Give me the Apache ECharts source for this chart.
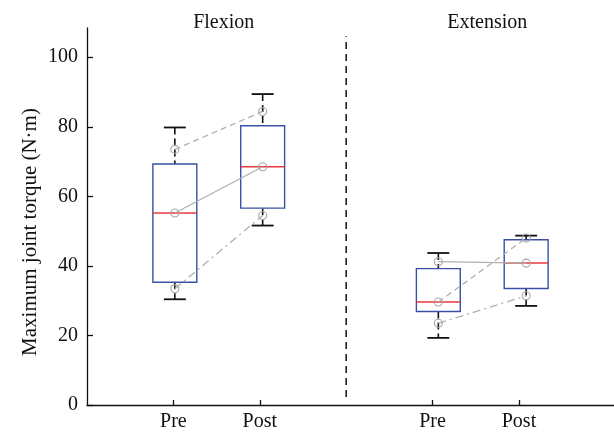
<!DOCTYPE html>
<html>
<head>
<meta charset="utf-8">
<script src="https://cdn.jsdelivr.net/npm/echarts@6/dist/echarts.min.js"></script>
<style>html,body{margin:0;padding:0;background:#fff;}#c{width:614px;height:432px;}</style>
</head>
<body>
<div id="c"></div>
<script>
// ---- data ----
var tickPositions = [1, 2, 4, 5];
var tickLabels = ['Pre', 'Post', 'Pre', 'Post'];
var groupTitles = ['Flexion', 'Extension'];
var groupCenters = [1.5, 4.5];
var yTicks = [0, 20, 40, 60, 80, 100];
// box stats: [x, min, q1, median, q3, max]
var boxFlexPre  = [1, 30.4, 35.3, 55.2, 69.3, 79.8];
var boxFlexPost = [2, 51.6, 56.6, 68.5, 80.3, 89.4];
var boxExtPre   = [4, 19.3, 26.9, 29.6, 39.2, 43.7];
var boxExtPost  = [5, 28.5, 33.5, 40.8, 47.5, 48.7];
// individual subjects: [pre, post]
var subj1Flex = [73.5, 84.4], subj1Ext = [29.6, 48.0];
var subj2Flex = [55.2, 68.5], subj2Ext = [41.2, 40.8];
var subj3Flex = [33.4, 54.5], subj3Ext = [23.5, 31.4];
var dividerX = 3;
var dividerRange = [2.3, 106];

var FONT = 'Liberation Serif';
var BOX_W = 0.5;

function renderBox(params, api) {
  var x = api.value(0);
  var lo = api.coord([x, api.value(1)]);
  var q1 = api.coord([x, api.value(2)]);
  var md = api.coord([x, api.value(3)]);
  var q3 = api.coord([x, api.value(4)]);
  var hi = api.coord([x, api.value(5)]);
  var bw = api.size([BOX_W, 0])[0];
  var cx = lo[0];
  var cw = bw / 2;
  var dashStyle = {stroke: '#111', lineWidth: 1.6, lineDash: [7, 4]};
  var capStyle = {stroke: '#111', lineWidth: 1.8};
  return {
    type: 'group',
    children: [
      {type: 'line', shape: {x1: cx, y1: hi[1], x2: cx, y2: q3[1]}, style: dashStyle},
      {type: 'line', shape: {x1: cx, y1: q1[1], x2: cx, y2: lo[1]}, style: dashStyle},
      {type: 'line', shape: {x1: cx - cw / 2, y1: hi[1], x2: cx + cw / 2, y2: hi[1]}, style: capStyle},
      {type: 'line', shape: {x1: cx - cw / 2, y1: lo[1], x2: cx + cw / 2, y2: lo[1]}, style: capStyle},
      {type: 'rect', shape: {x: cx - bw / 2, y: q3[1], width: bw, height: q1[1] - q3[1]},
        style: {fill: '#fff', stroke: '#3a50a6', lineWidth: 1.4}},
      {type: 'line', shape: {x1: cx - bw / 2, y1: md[1], x2: cx + bw / 2, y2: md[1]},
        style: {stroke: '#e8383d', lineWidth: 1.5}}
    ]
  };
}

function subjSeries(vals, xs, dash) {
  return {
    type: 'line', xAxisIndex: 1, yAxisIndex: 0, z: 5,
    data: [[xs[0], vals[0]], [xs[1], vals[1]]],
    symbol: 'circle', symbolSize: 8,
    itemStyle: {color: 'rgba(255,255,255,0)', borderColor: '#a5a5a5', borderWidth: 1.1},
    lineStyle: {color: '#b0b0b0', width: 1.3, type: dash},
    silent: true, animation: false
  };
}

var chart = echarts.init(document.getElementById('c'), null, {renderer: 'canvas'});
var option = {
  animation: false,
  backgroundColor: '#fff',
  textStyle: {fontFamily: FONT},
  title: groupTitles.map(function (t, i) {
    return {text: t, left: 87 + groupCenters[i] * (527 / 6), top: 8, textAlign: 'center',
      textStyle: {fontFamily: FONT, fontSize: 20, fontWeight: 'normal', color: '#111'}};
  }),
  grid: {left: 87, right: 0, top: 28, bottom: 26, containLabel: false},
  xAxis: [{
    type: 'value', min: 0, max: 6.1,
    axisLine: {show: true, lineStyle: {color: '#111', width: 1.3}},
    axisTick: {show: true, inside: true, length: 5, customValues: tickPositions, lineStyle: {color: '#111', width: 1.3}},
    axisLabel: {show: true, customValues: tickPositions, margin: 7, fontFamily: FONT, fontSize: 20, color: '#111',
      formatter: function (v) { var i = tickPositions.indexOf(v); return i >= 0 ? tickLabels[i] : ''; }},
    splitLine: {show: false}
  }, {
    type: 'value', min: 0, max: 6, show: false
  }],
  yAxis: [{
    type: 'value', min: 0, max: 108.4,
    axisLine: {show: true, lineStyle: {color: '#111', width: 1.3}},
    axisTick: {show: true, inside: true, length: 6, customValues: yTicks, lineStyle: {color: '#111', width: 1.3}},
    axisLabel: {show: true, customValues: yTicks, margin: 9, fontFamily: FONT, fontSize: 20, color: '#111'},
    splitLine: {show: false}
  }],
  graphic: [{
    type: 'text', x: 30, y: 232, rotation: Math.PI / 2,
    style: {text: 'Maximum joint torque (N·m)', font: '21px "Liberation Serif"', fill: '#111',
      textAlign: 'center', textVerticalAlign: 'middle'}
  }],
  series: [
    {
      type: 'custom', xAxisIndex: 1, yAxisIndex: 0, z: 2,
      renderItem: renderBox,
      encode: {x: 0, y: [1, 2, 3, 4, 5]},
      data: [boxFlexPre, boxFlexPost, boxExtPre, boxExtPost],
      silent: true
    },
    {
      type: 'line', xAxisIndex: 0, yAxisIndex: 0, z: 1,
      data: [[dividerX, dividerRange[0]], [dividerX, dividerRange[1]]],
      symbol: 'none', lineStyle: {color: '#111', width: 1.5, type: [7, 5]}, silent: true
    },
    subjSeries(subj1Flex, [1, 2], [6, 4]),
    subjSeries(subj1Ext, [4, 5], [6, 4]),
    subjSeries(subj2Flex, [1, 2], 'solid'),
    subjSeries(subj2Ext, [4, 5], 'solid'),
    subjSeries(subj3Flex, [1, 2], [8, 4, 2, 4]),
    subjSeries(subj3Ext, [4, 5], [8, 4, 2, 4])
  ]
};
chart.setOption(option);
</script>
</body>
</html>
